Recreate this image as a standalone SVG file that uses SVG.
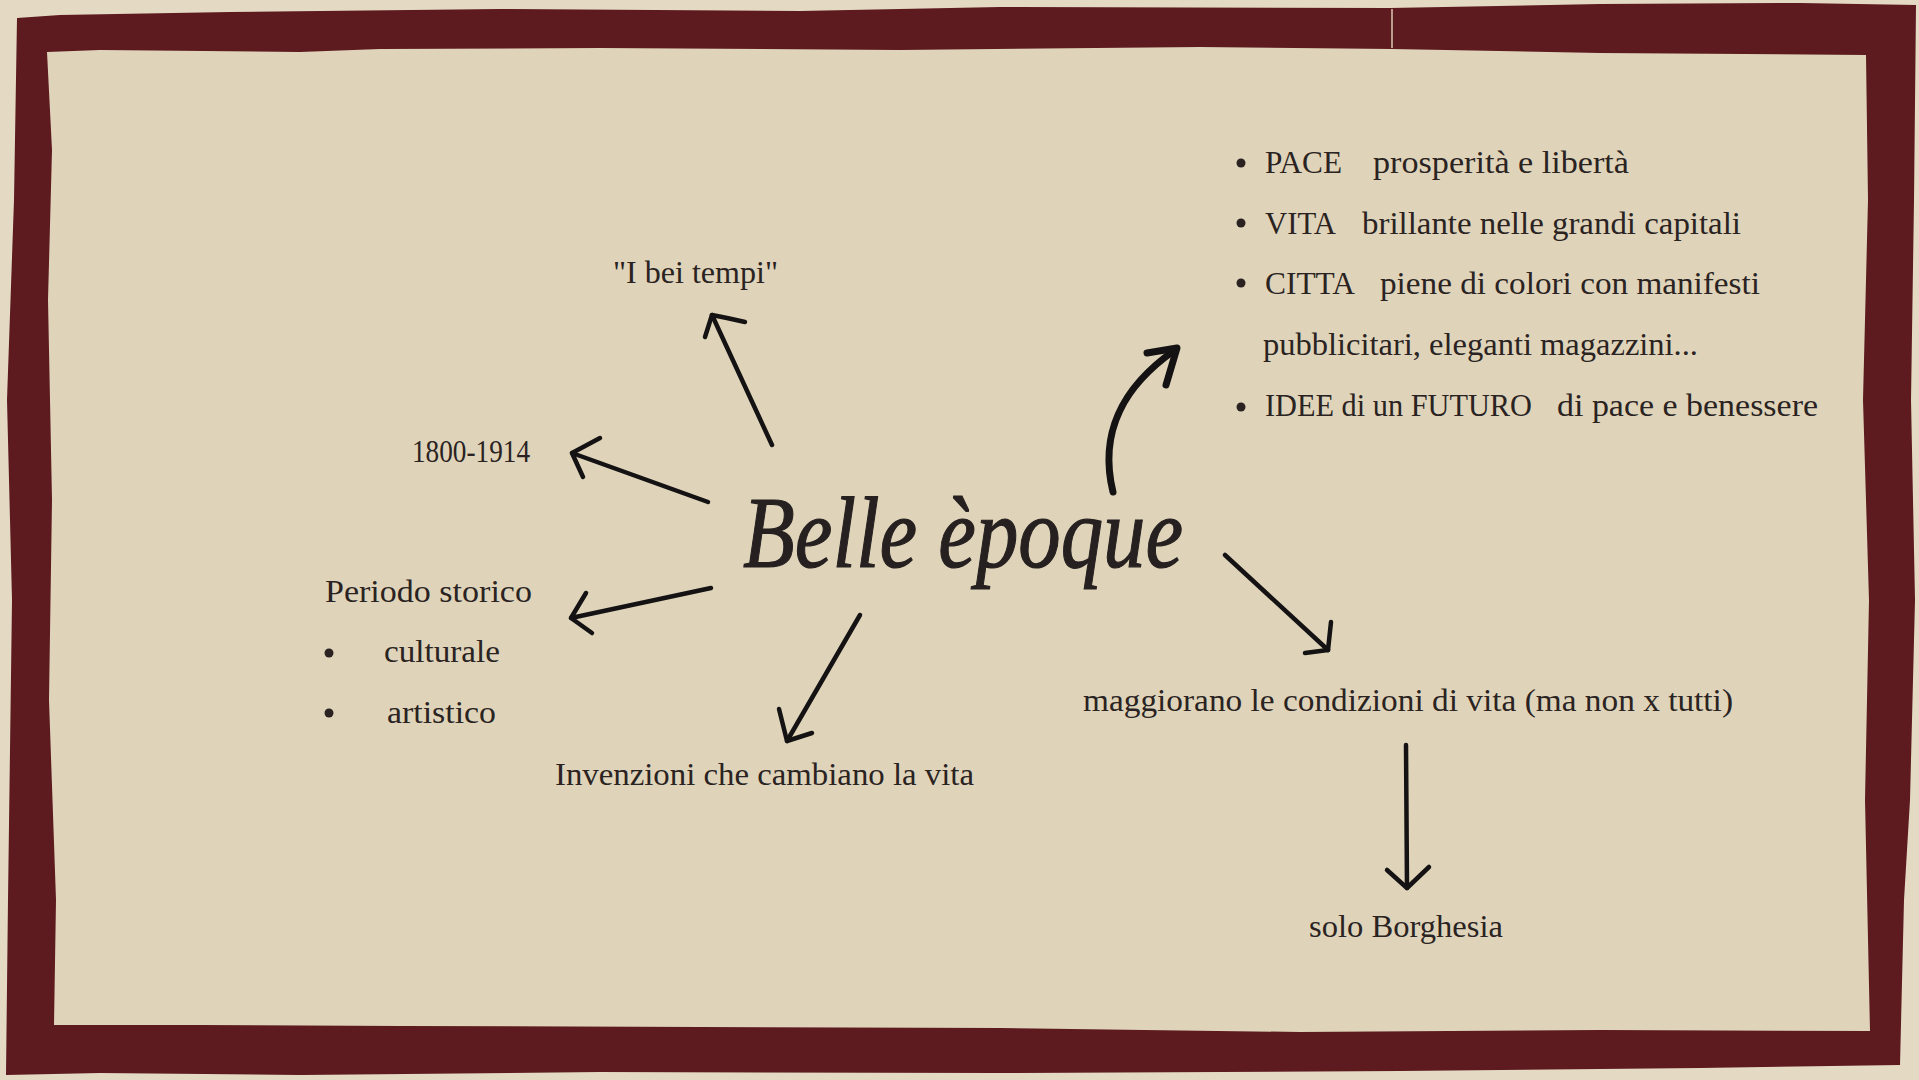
<svg xmlns="http://www.w3.org/2000/svg" width="1919" height="1080" viewBox="0 0 1919 1080">
  <style>
    .t { font-family: "Liberation Serif", "Times New Roman", serif; font-size: 31px; fill: #2a2322; }
    .title { font-family: "Liberation Serif", "Times New Roman", serif; font-style: italic; font-size: 102px; fill: #262020; stroke: #262020; stroke-width: 1.2px; }
    .arr { fill: none; stroke: #141212; stroke-width: 4.5; stroke-linecap: round; stroke-linejoin: round; }
    .arrThick { fill: none; stroke: #141212; stroke-width: 7; stroke-linecap: round; stroke-linejoin: round; }
    .dot { fill: #2a2322; }
  </style>
  <rect x="0" y="0" width="1919" height="1080" fill="#e4d9c3"/>
  <rect x="30" y="30" width="1860" height="1020" fill="#dfd4ba"/>
  <g id="frame">
    <path fill="#5d1a1f" fill-rule="evenodd" d="M17,18 L60,15 L230,12 L500,9 L800,11 L1000,7 L1390,8 L1600,4 L1800,3 L1916,5 L1914,200 L1911,400 L1915,600 L1910,800 L1904,900 L1900,1065 L1700,1068 L1400,1071 L1000,1073 L600,1072 L300,1075 L100,1073 L6,1075 L8,900 L12,600 L7,400 L14,200 Z M47,52 L100,50 L300,52 L380,49 L600,48 L900,50 L1200,47 L1392,49 L1600,53 L1866,55 L1868,200 L1863,400 L1869,600 L1865,800 L1870,1031 L1600,1030 L1300,1032 L1000,1028 L700,1027 L400,1026 L200,1025 L54,1025 L56,900 L49,700 L52,500 L48,300 L52,150 Z"/>
    <line x1="1392" y1="9" x2="1392" y2="48" stroke="#d8c9b3" stroke-width="1.5"/>
  </g>
  <g id="connectors">
    <path class="arr" d="M772,445 L712,315"/>
    <path class="arr" d="M705,337 L712,315 Q728,318 745,322"/>
    <path class="arr" d="M708,502 L572,453"/>
    <path class="arr" d="M600,438 L572,453 L583,477"/>
    <path class="arr" d="M711,588 L571,618"/>
    <path class="arr" d="M586,593 L571,618 L592,633"/>
    <path class="arr" d="M860,615 L787,741"/>
    <path class="arr" d="M779,709 L787,741 L812,733"/>
    <path class="arrThick" d="M1113,492 C1098,430 1125,385 1175,350"/>
    <path class="arrThick" d="M1147,353 L1177,348 L1166,385"/>
    <path class="arr" d="M1225,555 L1328,650"/>
    <path class="arr" d="M1331,622 L1328,650 L1305,653"/>
    <path class="arr" d="M1406,745 L1407,888"/>
    <path class="arr" d="M1387,870 L1407,888 L1429,867"/>
  </g>
  <g id="center">
    <text class="title" x="743" y="567" textLength="440" lengthAdjust="spacingAndGlyphs">Belle èpoque</text>
  </g>
  <g id="bei-tempi">
    <text class="t" x="613" y="283" textLength="165" lengthAdjust="spacingAndGlyphs">"I bei tempi"</text>
  </g>
  <g id="date">
    <text class="t" x="412" y="462" textLength="118" lengthAdjust="spacingAndGlyphs">1800-1914</text>
  </g>
  <g id="periodo">
    <text class="t" x="325" y="602" textLength="207" lengthAdjust="spacingAndGlyphs">Periodo storico</text>
    <circle class="dot" cx="329" cy="653" r="4.5"/>
    <text class="t" x="384" y="662" textLength="116" lengthAdjust="spacingAndGlyphs">culturale</text>
    <circle class="dot" cx="329" cy="713" r="4.5"/>
    <text class="t" x="387" y="723" textLength="109" lengthAdjust="spacingAndGlyphs">artistico</text>
  </g>
  <g id="invenzioni">
    <text class="t" x="555" y="785" textLength="419" lengthAdjust="spacingAndGlyphs">Invenzioni che cambiano la vita</text>
  </g>
  <g id="caratteristiche">
    <circle class="dot" cx="1241" cy="163" r="4.5"/>
    <text class="t" x="1265" y="173" textLength="77" lengthAdjust="spacingAndGlyphs">PACE</text>
    <text class="t" x="1373" y="173" textLength="256" lengthAdjust="spacingAndGlyphs">prosperità e libertà</text>
    <circle class="dot" cx="1241" cy="223" r="4.5"/>
    <text class="t" x="1265" y="234" textLength="71" lengthAdjust="spacingAndGlyphs">VITA</text>
    <text class="t" x="1362" y="234" textLength="379" lengthAdjust="spacingAndGlyphs">brillante nelle grandi capitali</text>
    <circle class="dot" cx="1241" cy="283" r="4.5"/>
    <text class="t" x="1265" y="294" textLength="90" lengthAdjust="spacingAndGlyphs">CITTA</text>
    <text class="t" x="1380" y="294" textLength="380" lengthAdjust="spacingAndGlyphs">piene di colori con manifesti</text>
    <text class="t" x="1263" y="355" textLength="435" lengthAdjust="spacingAndGlyphs">pubblicitari, eleganti magazzini...</text>
    <circle class="dot" cx="1241" cy="407" r="4.5"/>
    <text class="t" x="1265" y="416" textLength="267" lengthAdjust="spacingAndGlyphs">IDEE di un FUTURO</text>
    <text class="t" x="1557" y="416" textLength="261" lengthAdjust="spacingAndGlyphs">di pace e benessere</text>
  </g>
  <g id="condizioni">
    <text class="t" x="1083" y="711" textLength="650" lengthAdjust="spacingAndGlyphs">maggiorano le condizioni di vita (ma non x tutti)</text>
  </g>
  <g id="borghesia">
    <text class="t" x="1309" y="937" textLength="194" lengthAdjust="spacingAndGlyphs">solo Borghesia</text>
  </g>
</svg>
